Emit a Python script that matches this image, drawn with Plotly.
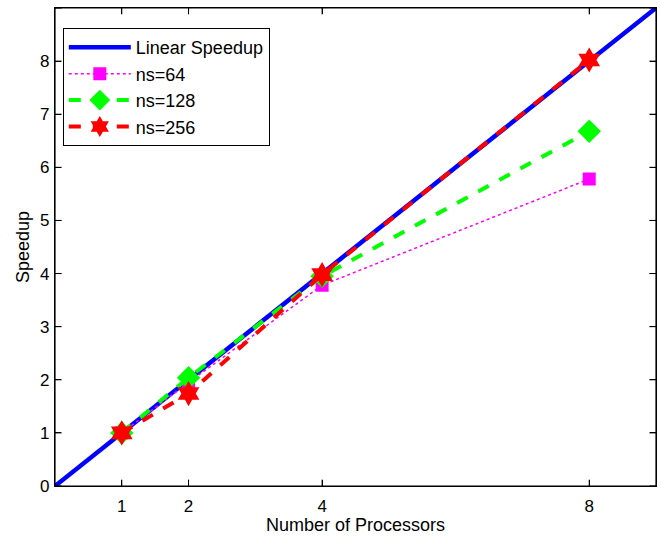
import plotly.graph_objects as go

procs = [1, 2, 4, 8]
linear_x = [0, 9]
linear_y = [0, 9]
ns64 = [1.0, 1.95, 3.78, 5.78]
ns128 = [1.0, 2.04, 3.95, 6.68]
ns256 = [1.0, 1.74, 3.98, 8.02]
xticks = [1, 2, 4, 8]
yticks = [0, 1, 2, 3, 4, 5, 6, 7, 8, 9]
XMIN, XMAX, YMIN, YMAX = 0, 9, 0, 9

FONT = "Liberation Sans, Arial, Helvetica"

fig = go.Figure()
fig.add_trace(go.Scatter(x=linear_x, y=linear_y, mode="lines", name="Linear Speedup",
                         line=dict(color="#0000ff", width=4.5)))
fig.add_trace(go.Scatter(x=procs, y=ns64, mode="lines+markers", name="ns=64",
                         line=dict(color="#ff00ff", width=1.5, dash="dot"),
                         marker=dict(symbol="square", size=13, color="#ff00ff")))
fig.add_trace(go.Scatter(x=procs, y=ns128, mode="lines+markers", name="ns=128",
                         line=dict(color="#00ff00", width=4, dash="dash"),
                         marker=dict(symbol="diamond", size=18, color="#00ff00")))
fig.add_trace(go.Scatter(x=procs, y=ns256, mode="lines+markers", name="ns=256",
                         line=dict(color="#ff0000", width=4, dash="dash"),
                         marker=dict(symbol="hexagram", size=19, color="#ff0000")))

axis_common = dict(showgrid=False, zeroline=False, showline=True, linecolor="#000000",
                   linewidth=1.2, mirror="allticks", ticks="inside", ticklen=6, tickwidth=1,
                   tickcolor="#000000", tickfont=dict(family=FONT, size=17, color="black"))
fig.update_xaxes(range=[XMIN, XMAX], tickvals=xticks, ticklabelstandoff=4,
                 title=dict(text="Number of Processors",
                            font=dict(family=FONT, size=18, color="black"), standoff=1),
                 **axis_common)
fig.update_yaxes(range=[YMIN, YMAX], tickvals=yticks, ticklabelstandoff=1,
                 title=dict(text="Speedup",
                            font=dict(family=FONT, size=18, color="black"), standoff=5),
                 **axis_common)

# frame box
fig.add_shape(type="rect", xref="paper", yref="paper", x0=0, y0=0, x1=1, y1=1,
              line=dict(color="black", width=1.2), layer="above")
# inside tick marks (fixed short length in axis units), placed at the tick values
TX = 0.1   # x-units (~7px)
TY = 0.12  # y-units (~6px)
for xt in xticks:
    fig.add_shape(type="line", xref="x", yref="y", x0=xt, x1=xt, y0=YMIN, y1=YMIN + TY,
                  line=dict(color="black", width=1), layer="above")
    fig.add_shape(type="line", xref="x", yref="y", x0=xt, x1=xt, y0=YMAX, y1=YMAX - TY,
                  line=dict(color="black", width=1), layer="above")
for yt in yticks:
    fig.add_shape(type="line", xref="x", yref="y", y0=yt, y1=yt, x0=XMIN, x1=XMIN + TX,
                  line=dict(color="black", width=1), layer="above")
    fig.add_shape(type="line", xref="x", yref="y", y0=yt, y1=yt, x0=XMAX, x1=XMAX - TX,
                  line=dict(color="black", width=1), layer="above")

fig.update_layout(template="none", width=661, height=536,
                  margin=dict(l=55, r=5, t=8, b=50, autoexpand=False),
                  plot_bgcolor="white", paper_bgcolor="white",
                  legend=dict(x=0.013, y=0.958, xanchor="left", yanchor="top",
                              bordercolor="black", borderwidth=1, bgcolor="white",
                              font=dict(family=FONT, size=18, color="black"),
                              itemwidth=62, tracegroupgap=0),
                  showlegend=True)
fig.write_html("out.html", config={"displayModeBar": False},
               post_script="document.body.style.margin='0px';document.body.style.overflow='hidden';")
